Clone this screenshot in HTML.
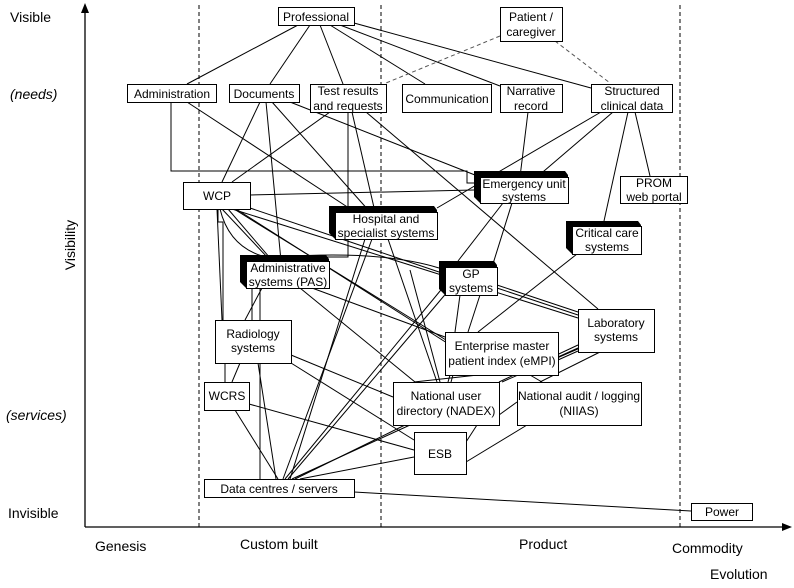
<!DOCTYPE html>
<html><head><meta charset="utf-8"><style>
html,body{margin:0;padding:0;background:#fff;}
svg{display:block;}
text{font-family:"Liberation Sans",sans-serif;fill:#000;}
.b{fill:#fff;stroke:#000;stroke-width:1;}
.t{font-size:12px;text-anchor:middle;}
.a{font-size:14px;}
</style></head><body>
<svg width="794" height="588" viewBox="0 0 794 588" xmlns="http://www.w3.org/2000/svg">
<line x1="85" y1="527" x2="85" y2="10" stroke="#000" stroke-width="1.3"/>
<polygon points="85,3 81,13 89,13" fill="#000"/>
<line x1="85" y1="527" x2="785" y2="527" stroke="#000" stroke-width="1.3"/>
<polygon points="792,527 782,523 782,531" fill="#000"/>
<g stroke="#000" stroke-dasharray="4,3" stroke-width="1">
<line x1="199" y1="5" x2="199" y2="527"/>
<line x1="381" y1="5" x2="381" y2="527"/>
<line x1="680" y1="5" x2="680" y2="527"/>
</g>
<text class="a" x="10" y="22">Visible</text>
<text class="a" x="10" y="99" font-style="italic">(needs)</text>
<text class="a" x="6" y="420" font-style="italic">(services)</text>
<text class="a" x="8" y="518">Invisible</text>
<text class="a" transform="translate(75,245) rotate(-90)" text-anchor="middle">Visibility</text>
<text class="a" x="95" y="551">Genesis</text>
<text class="a" x="240" y="549">Custom built</text>
<text class="a" x="519" y="549">Product</text>
<text class="a" x="672" y="553">Commodity</text>
<text class="a" x="710" y="579">Evolution</text>

<g stroke="#000" stroke-width="1" fill="none">
<line x1="298" y1="25" x2="187" y2="84"/>
<line x1="310" y1="25" x2="270" y2="84"/>
<line x1="320" y1="25" x2="343" y2="84"/>
<line x1="330" y1="25" x2="425" y2="84"/>
<line x1="340" y1="25" x2="500" y2="86"/>
<line x1="354" y1="23" x2="591" y2="88"/>
<polyline points="171,102 171,171 467,171 467,183 476,183"/>
<line x1="187" y1="102" x2="355" y2="212"/>
<line x1="260" y1="102" x2="222" y2="182"/>
<line x1="266" y1="102" x2="281" y2="261"/>
<line x1="272" y1="102" x2="370" y2="212"/>
<line x1="290" y1="102" x2="480" y2="177"/>
<line x1="330" y1="112" x2="232" y2="182"/>
<polyline points="348,112 348,257 289,257"/>
<line x1="352" y1="112" x2="375" y2="212"/>
<line x1="366" y1="112" x2="598" y2="309"/>
<line x1="437" y1="208" x2="601" y2="112"/>
<line x1="528" y1="112" x2="520" y2="177"/>
<line x1="613" y1="112" x2="537" y2="177"/>
<line x1="628" y1="112" x2="604" y2="221"/>
<line x1="635" y1="112" x2="650" y2="176"/>
<line x1="250" y1="195" x2="474" y2="190"/>
<line x1="250" y1="208" x2="439" y2="272"/>
<line x1="503" y1="203" x2="458" y2="261"/>
<line x1="512" y1="203" x2="492" y2="267"/>
<line x1="577" y1="254" x2="478" y2="332"/>
<line x1="372" y1="239" x2="283" y2="479"/>
<line x1="388" y1="239" x2="437" y2="382"/>
<path d="M 220 209 Q 230 250 270 258"/>
<line x1="222" y1="209" x2="268" y2="258"/>
<line x1="228" y1="209" x2="270" y2="258"/>
<line x1="232" y1="209" x2="578" y2="318"/>
<line x1="234" y1="209" x2="446" y2="340"/>
<line x1="236" y1="209" x2="447" y2="343"/>
<polyline points="218,209 218,222 223,222 223,320"/>
<line x1="217" y1="209" x2="222" y2="320"/>
<path d="M 280 257 Q 380 250 439 268"/>
<line x1="252" y1="288" x2="252" y2="320"/>
<line x1="262" y1="288" x2="245" y2="320"/>
<line x1="260" y1="288" x2="260" y2="479"/>
<line x1="300" y1="288" x2="415" y2="382"/>
<line x1="312" y1="288" x2="445" y2="337"/>
<line x1="225" y1="363" x2="225" y2="382"/>
<line x1="240" y1="363" x2="232" y2="382"/>
<line x1="258" y1="363" x2="276" y2="479"/>
<line x1="291" y1="355" x2="393" y2="397"/>
<line x1="291" y1="363" x2="414" y2="440"/>
<line x1="235" y1="410" x2="278" y2="479"/>
<line x1="249" y1="404" x2="414" y2="450"/>
<line x1="445" y1="285" x2="285" y2="479"/>
<line x1="449" y1="290" x2="288" y2="479"/>
<line x1="460" y1="295" x2="455" y2="332"/>
<line x1="480" y1="295" x2="468" y2="332"/>
<line x1="497" y1="285" x2="578" y2="312"/>
<line x1="497" y1="288" x2="578" y2="315"/>
<line x1="365" y1="239" x2="290" y2="479"/>
<line x1="410" y1="270" x2="440" y2="382"/>
<line x1="558" y1="357" x2="578" y2="348"/>
<line x1="558" y1="360" x2="578" y2="351"/>
<line x1="600" y1="352" x2="540" y2="382"/>
<line x1="530" y1="375" x2="542" y2="382"/>
<line x1="478" y1="375" x2="414" y2="382"/>
<line x1="450" y1="375" x2="448" y2="382"/>
<line x1="453" y1="375" x2="451" y2="382"/>
<line x1="499" y1="382" x2="578" y2="345"/>
<line x1="502" y1="382" x2="580" y2="348"/>
<line x1="499" y1="415" x2="517" y2="402"/>
<line x1="466" y1="442" x2="477" y2="425"/>
<line x1="466" y1="462" x2="527" y2="425"/>
<line x1="410" y1="425" x2="292" y2="479"/>
<line x1="405" y1="425" x2="295" y2="479"/>
<line x1="414" y1="457" x2="300" y2="479"/>
<line x1="354" y1="492" x2="691" y2="511"/>
</g>
<g stroke="#555" stroke-width="1" stroke-dasharray="4,3" fill="none">
<line x1="500" y1="36" x2="386" y2="83"/>
<line x1="555" y1="41" x2="610" y2="83"/>
</g>

<g fill="#000">
<polygon points="329,206 434,206 437,210 437,239 335,239 329,233"/>
<polygon points="474,171 565,171 568,175 568,203 480,203 474,197"/>
<polygon points="566,221 638,221 641,225 641,254 572,254 566,248"/>
<polygon points="240,255 326,255 329,259 329,288 246,288 240,282"/>
<polygon points="439,261 494,261 497,265 497,295 445,295 439,289"/>
</g>

<rect class="b" x="278.5" y="7.5" width="76" height="18"/>
<rect class="b" x="500.5" y="7.5" width="62" height="34"/>
<rect class="b" x="127.5" y="84.5" width="89" height="18"/>
<rect class="b" x="229.5" y="84.5" width="70" height="18"/>
<rect class="b" x="310.5" y="84.5" width="76" height="28"/>
<rect class="b" x="402.5" y="84.5" width="89" height="28"/>
<rect class="b" x="500.5" y="84.5" width="62" height="28"/>
<rect class="b" x="591.5" y="84.5" width="81" height="28"/>
<rect class="b" x="183.5" y="182.5" width="67" height="27"/>
<rect class="b" x="335.5" y="212.5" width="102" height="27"/>
<rect class="b" x="480.5" y="177.5" width="88" height="26"/>
<rect class="b" x="620.5" y="176.5" width="67" height="27"/>
<rect class="b" x="572.5" y="226.5" width="69" height="28"/>
<rect class="b" x="246.5" y="261.5" width="83" height="27"/>
<rect class="b" x="445.5" y="267.5" width="52" height="28"/>
<rect class="b" x="215.5" y="320.5" width="76" height="43"/>
<rect class="b" x="445.5" y="332.5" width="113" height="43"/>
<rect class="b" x="578.5" y="309.5" width="76" height="43"/>
<rect class="b" x="204.5" y="382.5" width="45" height="28"/>
<rect class="b" x="393.5" y="382.5" width="106" height="43"/>
<rect class="b" x="517.5" y="382.5" width="124" height="43"/>
<rect class="b" x="414.5" y="432.5" width="52" height="42"/>
<rect class="b" x="204.5" y="479.5" width="150" height="18"/>
<rect class="b" x="691.5" y="503.5" width="61" height="17"/>

<text class="t" x="316" y="21">Professional</text>
<text class="t" x="531" y="21">Patient /</text>
<text class="t" x="531" y="36">caregiver</text>
<text class="t" x="172" y="98">Administration</text>
<text class="t" x="264" y="98">Documents</text>
<text class="t" x="348" y="95">Test results</text>
<text class="t" x="348" y="110">and requests</text>
<text class="t" x="447" y="103">Communication</text>
<text class="t" x="531" y="95">Narrative</text>
<text class="t" x="531" y="110">record</text>
<text class="t" x="632" y="95">Structured</text>
<text class="t" x="632" y="110">clinical data</text>
<text class="t" x="217" y="200">WCP</text>
<text class="t" x="386" y="223">Hospital and</text>
<text class="t" x="386" y="237">specialist systems</text>
<text class="t" x="524" y="188">Emergency unit</text>
<text class="t" x="524" y="201">systems</text>
<text class="t" x="654" y="187">PROM</text>
<text class="t" x="654" y="201">web portal</text>
<text class="t" x="607" y="237">Critical care</text>
<text class="t" x="607" y="251">systems</text>
<text class="t" x="288" y="272">Administrative</text>
<text class="t" x="288" y="286">systems (PAS)</text>
<text class="t" x="471" y="278">GP</text>
<text class="t" x="471" y="292">systems</text>
<text class="t" x="253" y="338">Radiology</text>
<text class="t" x="253" y="352">systems</text>
<text class="t" x="502" y="350">Enterprise master</text>
<text class="t" x="502" y="365">patient index (eMPI)</text>
<text class="t" x="616" y="327">Laboratory</text>
<text class="t" x="616" y="341">systems</text>
<text class="t" x="227" y="400">WCRS</text>
<text class="t" x="446" y="400">National user</text>
<text class="t" x="446" y="415">directory (NADEX)</text>
<text class="t" x="579" y="400">National audit / logging</text>
<text class="t" x="579" y="415">(NIIAS)</text>
<text class="t" x="440" y="458">ESB</text>
<text class="t" x="279" y="493">Data centres / servers</text>
<text class="t" x="722" y="516">Power</text>
</svg>
</body></html>
